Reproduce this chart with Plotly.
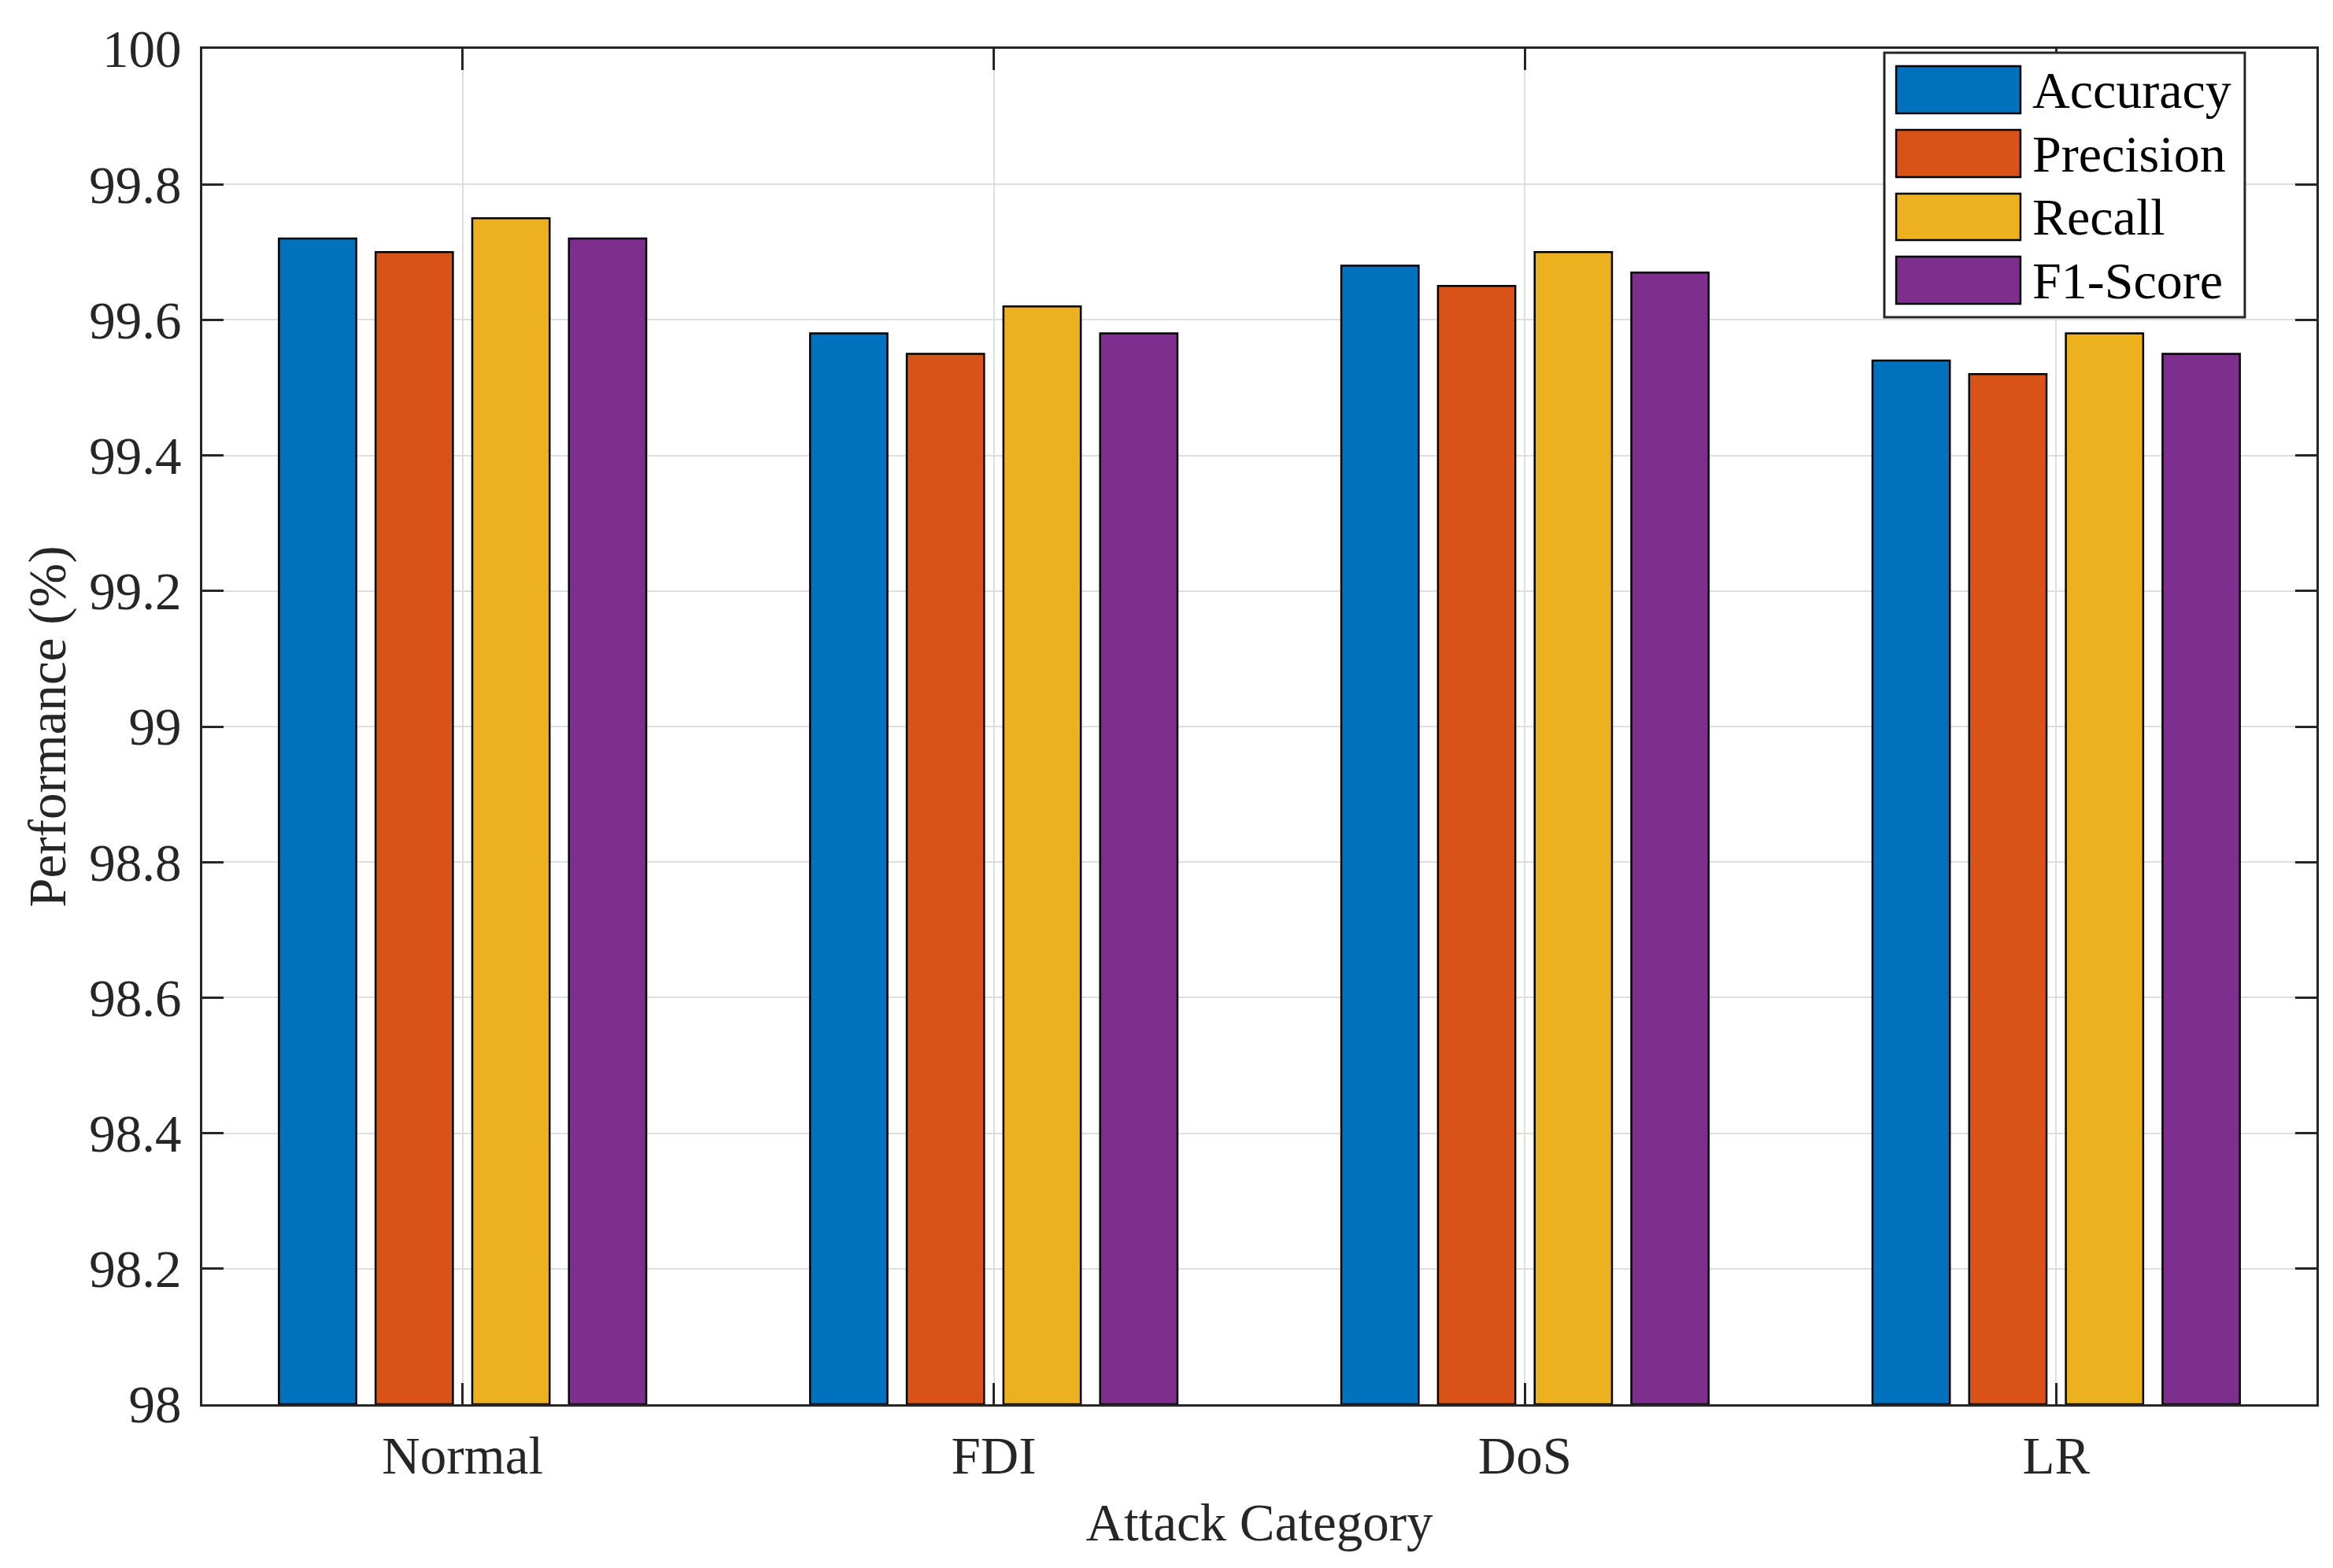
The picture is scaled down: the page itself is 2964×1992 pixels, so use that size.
import plotly.graph_objects as go

categories = ["Normal", "FDI", "DoS", "LR"]
accuracy = [99.72, 99.58, 99.68, 99.54]
precision = [99.70, 99.55, 99.65, 99.52]
recall = [99.75, 99.62, 99.70, 99.58]
f1_score = [99.72, 99.58, 99.67, 99.55]
series_names = ["Accuracy", "Precision", "Recall", "F1-Score"]
y_ticks = [98, 98.2, 98.4, 98.6, 98.8, 99, 99.2, 99.4, 99.6, 99.8, 100]
y_tick_labels = ["98", "98.2", "98.4", "98.6", "98.8", "99", "99.2", "99.4", "99.6", "99.8", "100"]

colors = ["#0072BD", "#D95319", "#EDB120", "#7E2F8E"]
series = [accuracy, precision, recall, f1_score]

FONT = "Liberation Serif"
AX = "#262626"
FS = 67

fig = go.Figure()
for name, vals, c in zip(series_names, series, colors):
    fig.add_trace(go.Bar(
        x=list(range(len(categories))), y=[v - 98 for v in vals], base=98,
        name=name, marker=dict(color=c, line=dict(color="black", width=2.5)),
        showlegend=False,
    ))

# Legend drawn as a MATLAB-style box with wide swatches (paper coordinates)
leg_box = dict(x0=0.7956, x1=0.9661, y0=0.8020, y1=0.9971)
sw_x = (0.8012, 0.8600)
sw_rows = [(0.9524, 0.9872), (0.9053, 0.9402), (0.8589, 0.8931), (0.8118, 0.8467)]
txt_x = 0.8649

shapes = [dict(type="rect", xref="paper", yref="paper", layer="above",
               fillcolor="white", line=dict(color=AX, width=3), **leg_box)]
annotations = []
for name, c, (y0, y1) in zip(series_names, colors, sw_rows):
    shapes.append(dict(type="rect", xref="paper", yref="paper", layer="above",
                       x0=sw_x[0], x1=sw_x[1], y0=y0, y1=y1,
                       fillcolor=c, line=dict(color="black", width=2.5)))
    annotations.append(dict(xref="paper", yref="paper", x=txt_x, y=(y0 + y1) / 2,
                            xanchor="left", yanchor="middle", showarrow=False,
                            text=name, font=dict(family=FONT, size=66, color="black")))

fig.update_layout(
    width=2964, height=1992,
    barmode="group", bargap=0.272, bargroupgap=0.2,
    plot_bgcolor="white", paper_bgcolor="white",
    margin=dict(l=249, r=29, t=54, b=216, autoexpand=False),
    font=dict(family=FONT, size=FS, color=AX),
    showlegend=False,
    shapes=shapes, annotations=annotations,
)
fig.update_xaxes(
    range=[-0.49, 3.49],
    tickmode="array", tickvals=list(range(len(categories))), ticktext=categories,
    ticks="inside", ticklen=27, tickwidth=3, tickcolor=AX,
    showline=True, linecolor=AX, linewidth=3, mirror="ticks",
    showgrid=True, gridcolor="#DEDEDE", gridwidth=2, zeroline=False,
    tickfont=dict(family=FONT, size=FS, color=AX), ticklabelstandoff=5,
    title=dict(text="Attack Category", font=dict(family=FONT, size=FS, color=AX), standoff=25),
)
fig.update_yaxes(
    range=[98, 100],
    tickmode="array", tickvals=y_ticks, ticktext=y_tick_labels,
    ticks="inside", ticklen=27, tickwidth=3, tickcolor=AX,
    showline=True, linecolor=AX, linewidth=3, mirror="ticks",
    showgrid=True, gridcolor="#DEDEDE", gridwidth=2, zeroline=False,
    tickfont=dict(family=FONT, size=FS, color=AX), ticklabelstandoff=10,
    title=dict(text="Performance (%)", font=dict(family=FONT, size=FS, color=AX), standoff=8),
)

fig.write_html("out.html")
